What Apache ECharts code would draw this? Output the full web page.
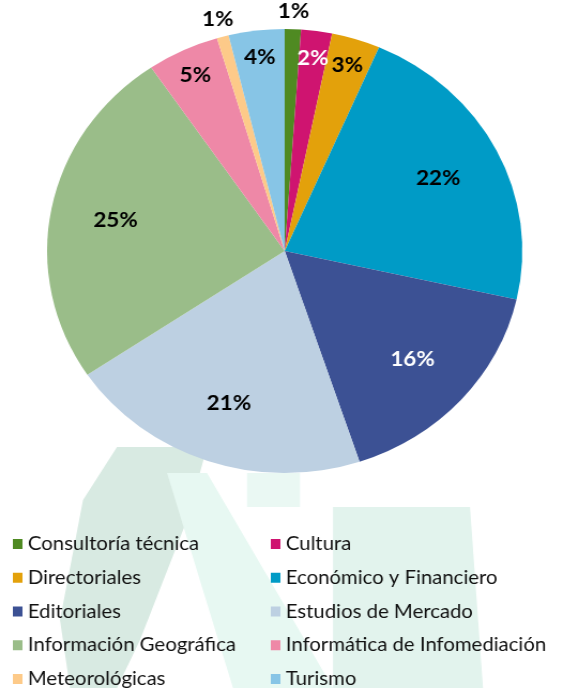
<!DOCTYPE html>
<html>
<head>
<meta charset="utf-8">
<script src="https://cdn.jsdelivr.net/npm/echarts@6/dist/echarts.min.js"></script>
<style>
  html, body { margin: 0; padding: 0; background: #fff; overflow: hidden; }
  /* the reference pie is a bit wider than tall, so the whole chart is stretched on x */
  #chart { width: 526px; height: 700px; transform: scaleX(1.0703); transform-origin: 0 0; }
</style>
</head>
<body>
<div id="chart"></div>
<script>
// categories and shares (%)
const categories = [
  'Consultoría técnica', 'Cultura', 'Directoriales', 'Económico y Financiero',
  'Editoriales', 'Estudios de Mercado', 'Información Geográfica',
  'Informática de Infomediación', 'Meteorológicas', 'Turismo'
];
const shares = [1.1, 2.1, 3.3, 22.0, 16.4, 20.7, 24.9, 4.9, 0.8, 3.8];
const colors = [
  '#4F8A22', '#CF1470', '#E3A10B', '#009BC6', '#3C5194',
  '#BDD0E2', '#9ABD89', '#EE88A7', '#FDCA89', '#87C5E6'
];
// which slices get a white label, and where each label sits
const whiteLabels = ['Cultura', 'Editoriales'];
const bigLabels = ['Económico y Financiero', 'Editoriales', 'Estudios de Mercado', 'Información Geográfica'];
const smallLabels = ['Cultura', 'Directoriales', 'Informática de Infomediación', 'Turismo'];
const outerLabels = ['Consultoría técnica', 'Meteorológicas'];

const legendLeft = categories.filter((c, i) => i % 2 === 0);
const legendRight = categories.filter((c, i) => i % 2 === 1);

const center = [266, 251];
const R = 222;

const pieData = categories.map((name, i) => ({
  name: name,
  value: shares[i],
  itemStyle: { color: colors[i] }
}));

// transparent copy of the pie, only used to put labels at a given distance
function labelSeries(r0, r1, shown) {
  return {
    type: 'pie',
    center: center,
    radius: [r0, r1],
    startAngle: 90,
    silent: true,
    legendHoverLink: false,
    percentPrecision: 0,
    itemStyle: { color: 'rgba(0,0,0,0)', borderWidth: 0 },
    labelLine: { show: false },
    data: categories.map((name, i) => ({
      name: name,
      value: shares[i],
      label: {
        show: shown.indexOf(name) >= 0,
        position: 'inside',
        formatter: '{d}%',
        color: whiteLabels.indexOf(name) >= 0 ? '#fff' : '#000',
        fontFamily: 'Lato',
        fontWeight: 'bold',
        fontSize: 21
      }
    }))
  };
}

// faint watermark behind the legend (screen x, so undo the stretch)
const wm = (pts) => pts.map(p => [p[0] / 1.0703, p[1]]);

const legendText = { fontFamily: 'Lato', fontSize: 19, color: '#111', lineHeight: 20 };

const option = {
  animation: false,
  graphic: [
    { type: 'polygon', z: -10, shape: { points: wm([[117, 447], [207, 447], [187, 520], [140, 640], [117, 688], [70, 688], [60, 620], [83, 500]]) }, style: { fill: '#d8eae2' } },
    { type: 'polygon', z: -10, shape: { points: wm([[167, 473], [207, 473], [333, 688], [233, 688]]) }, style: { fill: '#e7f8f2' } },
    { type: 'polygon', z: -10, shape: { points: wm([[247, 473], [300, 473], [300, 507], [247, 507]]) }, style: { fill: '#eaf8f3' } },
    { type: 'polygon', z: -10, shape: { points: wm([[333, 507], [470, 507], [483, 688], [333, 688]]) }, style: { fill: '#e2f3ed' } }
  ],
  legend: [
    {
      data: legendLeft, orient: 'vertical', left: 7, top: 529,
      itemWidth: 9, itemHeight: 10, itemGap: 13.75, icon: 'rect',
      selectedMode: false, textStyle: legendText
    },
    {
      data: legendRight, orient: 'vertical', left: 248, top: 529,
      itemWidth: 9, itemHeight: 10, itemGap: 13.75, icon: 'rect',
      selectedMode: false, textStyle: legendText
    }
  ],
  series: [
    {
      type: 'pie',
      center: center,
      radius: [0, R],
      startAngle: 90,
      label: { show: false },
      labelLine: { show: false },
      itemStyle: { borderWidth: 0 },
      data: pieData
    },
    labelSeries(100, 216, bigLabels),
    labelSeries(166, 218, smallLabels),
    labelSeries(228, 246, outerLabels)
  ]
};

const chart = echarts.init(document.getElementById('chart'));
chart.setOption(option);
</script>
</body>
</html>
